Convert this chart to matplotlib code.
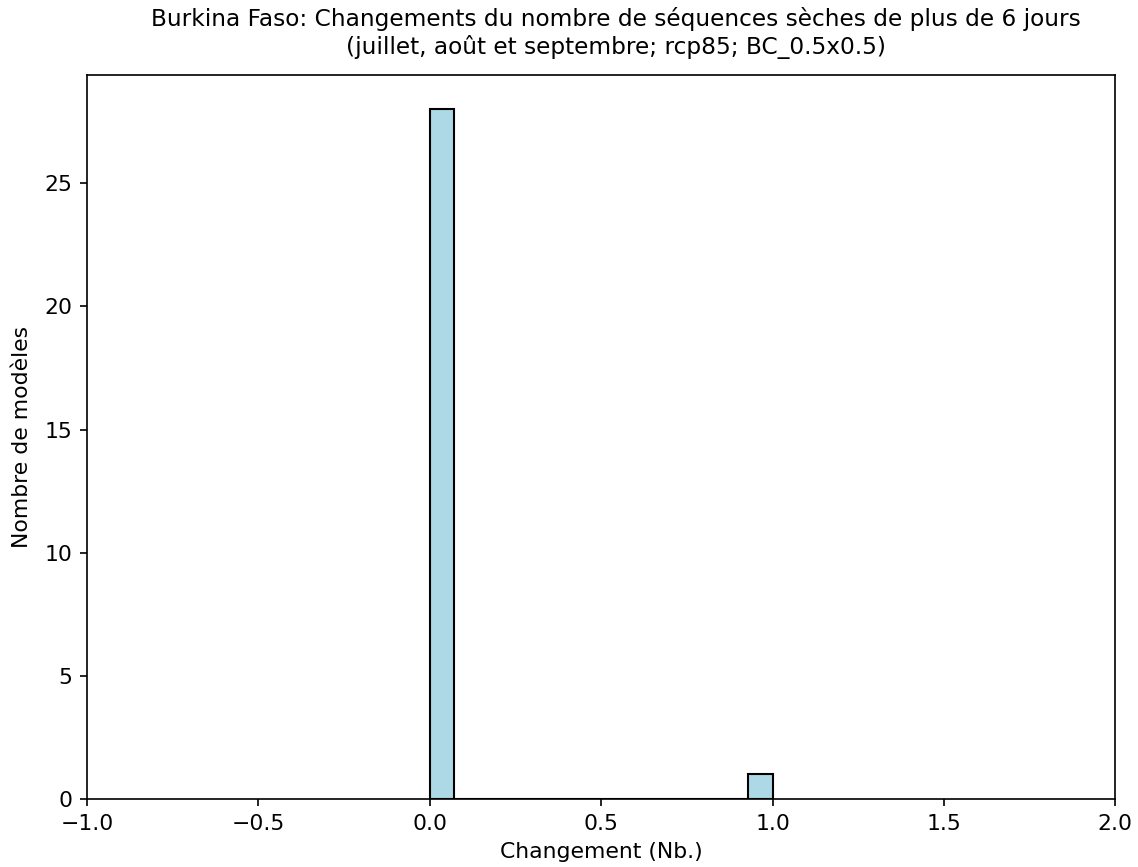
import numpy as np
import matplotlib
matplotlib.use("Agg")
import matplotlib.pyplot as plt

# changes per model (Nb.)
changes = [0.0] * 28 + [1.0]
n_bins = 14

title = ("Burkina Faso: Changements du nombre de séquences sèches de plus de 6 jours\n"
         "(juillet, août et septembre; rcp85; BC_0.5x0.5)")

plt.rcParams['font.size'] = 10.5
fig = plt.figure(figsize=(1138 / 150, 867 / 150), dpi=150)
ax = fig.add_axes([0.0765, 0.0784, 0.9035, 0.8351])
ax.hist(changes, bins=n_bins, color="lightblue", edgecolor="black")
ax.set_xlim(-1, 2)
ax.set_title(title, fontsize=11.2, pad=10, x=0.514)
ax.set_xlabel("Changement (Nb.)")
ax.set_ylabel("Nombre de modèles", labelpad=6)
fig.savefig("out.png", dpi=150)
